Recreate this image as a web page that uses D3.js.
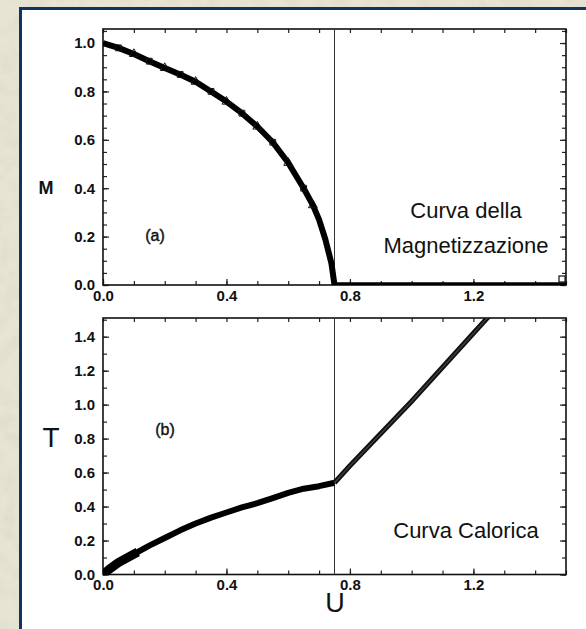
<!DOCTYPE html>
<html>
<head>
<meta charset="utf-8">
<script src="https://cdn.jsdelivr.net/npm/d3@7"></script>
<style>
  html, body { margin: 0; padding: 0; background: #e6e2d1; }
  svg { display: block; }
</style>
</head>
<body>
<div id="chart-wrap"></div>
<script>
// Data
const uMag = [0, 0.05, 0.1, 0.15, 0.2, 0.25, 0.3, 0.35, 0.4, 0.45, 0.5, 0.55, 0.6, 0.65, 0.68, 0.7, 0.72, 0.74, 0.75, 0.8, 0.9, 1.0, 1.1, 1.2, 1.3, 1.4, 1.5];
const magValues = [1.0, 0.98, 0.955, 0.925, 0.897, 0.87, 0.84, 0.8, 0.758, 0.71, 0.655, 0.59, 0.505, 0.4, 0.33, 0.27, 0.19, 0.09, 0.0, 0.0, 0.0, 0.0, 0.0, 0.0, 0.0, 0.0, 0.0];
const uCal = [0, 0.02, 0.05, 0.1, 0.15, 0.2, 0.25, 0.3, 0.35, 0.4, 0.45, 0.5, 0.55, 0.6, 0.65, 0.7, 0.75, 0.8, 1.0, 1.2, 1.27];
const tempValues = [0.0, 0.03, 0.07, 0.12, 0.17, 0.215, 0.26, 0.3, 0.335, 0.365, 0.395, 0.42, 0.45, 0.48, 0.505, 0.52, 0.54, 0.64, 1.02, 1.42, 1.56];
const uCritical = 0.75;

const xTickLabels = [0, 0.4, 0.8, 1.2];
const mTickLabels = [0, 0.2, 0.4, 0.6, 0.8, 1.0];
const tTickLabels = [0, 0.2, 0.4, 0.6, 0.8, 1.0, 1.2, 1.4];

const width = 586;
const height = 629;
const fmt = d3.format(".1f");
const font = '"Liberation Sans", Arial, Helvetica, sans-serif';

const svg = d3.select('#chart-wrap').append('svg')
  .attr('width', width)
  .attr('height', height);

// paper texture
const defs = svg.append('defs');
const filt = defs.append('filter').attr('id', 'paper');
filt.append('feTurbulence')
  .attr('type', 'fractalNoise')
  .attr('baseFrequency', 0.06)
  .attr('numOctaves', 3)
  .attr('seed', 4);
filt.append('feColorMatrix')
  .attr('values', '0 0 0 0 0.55  0 0 0 0 0.53  0 0 0 0 0.45  0 0 0 1.2 -0.45');

svg.append('rect')
  .attr('width', width).attr('height', height)
  .attr('fill', '#e8e4d4');
svg.append('rect')
  .attr('width', width).attr('height', height)
  .attr('filter', 'url(#paper)')
  .attr('opacity', 0.35);

// white panel with blue frame
svg.append('rect')
  .attr('x', 20.5).attr('y', 8.5)
  .attr('width', width).attr('height', height)
  .attr('fill', '#fff')
  .attr('stroke', '#0e3461')
  .attr('stroke-width', 3);

// Scales
const x = d3.scaleLinear().domain([0, 1.5]).range([103, 566]);
const yM = d3.scaleLinear().domain([0, 1.058]).range([285, 29]);
const yT = d3.scaleLinear().domain([0, 1.51]).range([574.5, 318]);

const drawPanel = (y, yMajor, yMinorStep, name) => {
  const g = svg.append('g');
  const [x0, x1] = x.range();
  const [yb, yt] = y.range();
  const yMinor = d3.range(0, y.domain()[1] + 1e-6, yMinorStep);
  const xMinor = d3.range(0, 1.5001, 0.1);

  defs.append('clipPath').attr('id', 'clip-' + name)
    .append('rect')
    .attr('x', x0).attr('y', yt)
    .attr('width', x1 - x0).attr('height', yb - yt);

  // minor ticks, all four sides
  g.append('g').attr('transform', `translate(0,${yb})`)
    .call(d3.axisBottom(x).tickValues(xMinor).tickSize(-4).tickFormat(''));
  g.append('g').attr('transform', `translate(0,${yt})`)
    .call(d3.axisTop(x).tickValues(xMinor).tickSize(-4).tickFormat(''));
  g.append('g').attr('transform', `translate(${x0},0)`)
    .call(d3.axisLeft(y).tickValues(yMinor).tickSize(-4).tickFormat(''));
  g.append('g').attr('transform', `translate(${x1},0)`)
    .call(d3.axisRight(y).tickValues(yMinor).tickSize(-4).tickFormat(''));

  // labelled ticks
  g.append('g').attr('transform', `translate(0,${yb})`)
    .call(d3.axisBottom(x).tickValues(xTickLabels).tickSize(-6).tickPadding(5).tickFormat(fmt));
  g.append('g').attr('transform', `translate(${x0},0)`)
    .call(d3.axisLeft(y).tickValues(yMajor).tickSize(-6).tickPadding(8).tickFormat(fmt));
  g.append('g').attr('transform', `translate(${x1},0)`)
    .call(d3.axisRight(y).tickValues(yMajor).tickSize(-6).tickFormat(''));

  g.selectAll('.domain').remove();
  g.selectAll('.tick line').attr('stroke', '#222').attr('stroke-width', 1.2);
  g.selectAll('.tick text')
    .style('font-family', font)
    .style('font-size', '15px')
    .style('font-weight', 'bold')
    .attr('fill', '#111');

  // frame
  g.append('rect')
    .attr('x', x0).attr('y', yt)
    .attr('width', x1 - x0).attr('height', yb - yt)
    .attr('fill', 'none')
    .attr('stroke', '#111')
    .attr('stroke-width', 1.6);

  // transition line
  g.append('line')
    .attr('x1', x(uCritical)).attr('x2', x(uCritical))
    .attr('y1', yt).attr('y2', yb)
    .attr('stroke', '#333')
    .attr('stroke-width', 1);

  return g.append('g').attr('clip-path', `url(#clip-${name})`);
};

const plotA = drawPanel(yM, mTickLabels, 0.05, 'a');
const plotB = drawPanel(yT, tTickLabels, 0.1, 'b');

// Magnetization curve
const magData = uMag.map((u, i) => ({ u: u, v: magValues[i] }));
const lineM = d3.line().x(d => x(d.u)).y(d => yM(d.v));

plotA.append('path')
  .datum(magData.filter(d => d.u <= uCritical))
  .attr('d', lineM)
  .attr('fill', 'none')
  .attr('stroke', '#000')
  .attr('stroke-width', 6)
  .attr('stroke-linejoin', 'round');
plotA.append('path')
  .datum(magData.filter(d => d.u >= uCritical))
  .attr('d', lineM)
  .attr('fill', 'none')
  .attr('stroke', '#000')
  .attr('stroke-width', 3.5)
  .attr('transform', 'translate(0,-1)');

plotA.selectAll('.mk')
  .data(magData.filter(d => d.u > 0 && d.u < 0.7))
  .enter()
  .append('path')
  .attr('transform', d => `translate(${x(d.u)},${yM(d.v)})`)
  .attr('d', (d, i) => d3.symbol().type(i % 2 ? d3.symbolTriangle : d3.symbolSquare).size(34)())
  .attr('fill', 'none')
  .attr('stroke', '#111')
  .attr('stroke-width', 1);

// little open square at the end
const last = magData[magData.length - 1];
plotA.append('rect')
  .attr('x', x(last.u) - 7)
  .attr('y', yM(last.v) - 9)
  .attr('width', 6).attr('height', 6)
  .attr('fill', '#fff')
  .attr('stroke', '#111')
  .attr('stroke-width', 1.2);

// Caloric curve
const calData = uCal.map((u, i) => ({ u: u, v: tempValues[i] }));
const lineT = d3.line().x(d => x(d.u)).y(d => yT(d.v));

plotB.append('path')
  .datum(calData.filter(d => d.u <= uCritical))
  .attr('d', lineT)
  .attr('fill', 'none')
  .attr('stroke', '#000')
  .attr('stroke-width', 6)
  .attr('stroke-linejoin', 'round');
plotB.append('path')
  .datum(calData.filter(d => d.u <= 0.1))
  .attr('d', lineT)
  .attr('fill', 'none')
  .attr('stroke', '#000')
  .attr('stroke-width', 9)
  .attr('stroke-linecap', 'square');
plotB.append('path')
  .datum(calData.filter(d => d.u >= uCritical))
  .attr('d', lineT)
  .attr('fill', 'none')
  .attr('stroke', '#111')
  .attr('stroke-width', 5);
plotB.append('path')
  .datum(calData.filter(d => d.u >= uCritical))
  .attr('d', lineT)
  .attr('fill', 'none')
  .attr('stroke', '#444')
  .attr('stroke-width', 1.2);

// Text
const addText = (txt, tx, ty, size, weight) => {
  return svg.append('text')
    .attr('x', tx).attr('y', ty)
    .attr('text-anchor', 'middle')
    .style('font-family', font)
    .style('font-size', size + 'px')
    .style('font-weight', weight || 'normal')
    .attr('fill', '#111')
    .text(txt);
};

addText('M', 46, 194, 18, 'bold');
addText('T', 51, 447, 28);
addText('U', 335, 612, 27);
addText('(a)', 155, 241, 16).attr('stroke', '#111').attr('stroke-width', 0.4);
addText('(b)', 165, 435, 16).attr('stroke', '#111').attr('stroke-width', 0.4);
addText('Curva della', 466, 218, 22);
addText('Magnetizzazione', 466, 253, 22);
addText('Curva Calorica', 466, 538, 22);
</script>
</body>
</html>
